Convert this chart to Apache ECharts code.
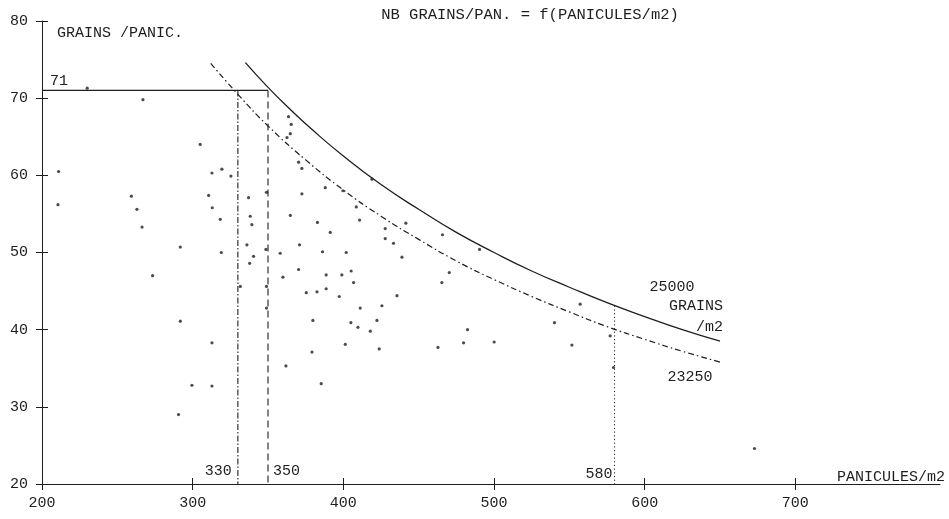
<!DOCTYPE html>
<html>
<head>
<meta charset="utf-8">
<script src="https://cdn.jsdelivr.net/npm/echarts@6/dist/echarts.min.js"></script>
<style>
html,body{margin:0;padding:0;background:#fff;}
#chart{width:949px;height:519px;}
</style>
</head>
<body>
<div id="chart"></div>
<script>
// ---- data ----
const xTicks = [200, 300, 400, 500, 600, 700];
const yTicks = [20, 30, 40, 50, 60, 70, 80];

// scatter: panicules/m2 and grains/panicle
const panicules = [230, 267, 211, 210.6, 305, 259.3, 263, 266.4, 312.8, 319.4, 325.4, 310.6, 313, 318.3, 291.8, 319, 273.4,
  291.8, 312.8, 299.5, 312.8, 290.6, 337.1, 338.2, 339.3, 336, 340.4, 337.8, 348.6, 358.1, 349, 363.6, 365.4, 364.8, 362.6,
  370.3, 372.5, 388, 372.5, 399.7, 419, 408.6, 364.8, 382.8, 410.8, 391.3, 427.8, 441.5, 427.8, 433.3, 370.9, 386.2, 401.9,
  438.9, 370.3, 359.9, 388.6, 399, 405.2, 406.8, 388.6, 382.5, 375.4, 397.3, 435.6, 425.6, 411.2, 379.8, 405, 409.7, 422.3,
  417.9, 401.3, 423.8, 462.8, 379.2, 361.9, 385.3, 331.6, 349, 465.8, 490.4, 470.3, 465.4, 557.2, 540.1, 482.4, 479.8, 500.1,
  551.7, 577.1, 579.3, 672.9, 349];
const grainsPerPan = [71.3, 69.8, 60.5, 56.2, 64.0, 57.3, 55.6, 53.3, 60.3, 60.8, 59.9, 57.4, 55.8, 54.3, 50.7, 50.0, 47.0,
  41.1, 38.3, 32.8, 32.7, 29.0, 57.1, 54.7, 53.6, 51.0, 49.5, 48.6, 50.4, 49.9, 57.8, 67.6, 66.6, 65.4, 64.9,
  61.7, 60.9, 58.4, 57.6, 58.0, 59.5, 55.9, 54.8, 53.9, 54.2, 52.6, 53.1, 53.8, 51.8, 51.2, 51.0, 50.1, 50.0,
  49.4, 47.8, 46.8, 47.1, 47.1, 47.6, 46.1, 45.3, 44.9, 44.8, 44.3, 44.4, 43.1, 42.8, 41.2, 40.9, 40.3, 41.2,
  39.8, 38.1, 37.5, 37.7, 37.1, 35.3, 33.0, 45.6, 45.6, 52.3, 50.4, 47.4, 46.1, 43.3, 40.9, 40.0, 38.3, 38.4,
  38.0, 39.2, 35.1, 24.6, 42.8];

// iso-yield curves
const curveHighX = [335, 350, 365, 380, 400, 425, 450, 475, 500, 525, 550, 575, 600, 625, 650];
const curveHighY = [74.6, 71.4, 68.5, 65.8, 62.5, 58.8, 55.6, 52.6, 50.0, 47.6, 45.5, 43.5, 41.7, 40.0, 38.5];
const curveLowX = [312, 330, 350, 375, 400, 425, 450, 475, 500, 525, 550, 575, 600, 625, 650];
const curveLowY = [74.5, 70.5, 66.4, 62.0, 58.1, 54.7, 51.7, 48.9, 46.5, 44.3, 42.3, 40.4, 38.75, 37.2, 35.8];

// reference lines
const refGrains = 71;
const refPanA = 330, refPanB = 350, refPanC = 580;
const refPanCTop = 43.1;
const xMin = 200, xMax = 796, yMin = 20, yMax = 80;

const FONT = '"Liberation Mono", "DejaVu Sans Mono", monospace';
const INK = '#1e1e1e';

const chart = echarts.init(document.getElementById('chart'), null, {renderer: 'canvas'});

const lineBase = {type: 'line', symbol: 'none', silent: true, animation: false, z: 3};

const xBase = {type: 'value', min: xMin, max: xMax, interval: 100, position: 'bottom', splitLine: {show: false}};
const yBase = {type: 'value', min: yMin, max: yMax, interval: 10, position: 'left', splitLine: {show: false}};
const clearLine = {show: true, lineStyle: {color: 'rgba(0,0,0,0)'}};

chart.setOption({
  animation: false,
  backgroundColor: '#fff',
  grid: {left: 42, right: 9, top: 21, bottom: 35},
  xAxis: [
    Object.assign({}, xBase, {
      axisLine: {lineStyle: {color: INK, width: 1}},
      axisTick: {show: true, length: 6, lineStyle: {color: INK}, customValues: xTicks},
      axisLabel: {color: INK, fontFamily: FONT, fontSize: 15, margin: 12, customValues: xTicks}
    }),
    Object.assign({}, xBase, {
      axisLine: clearLine,
      axisTick: {show: true, inside: true, length: 6, lineStyle: {color: INK, width: 1}, customValues: xTicks},
      axisLabel: {show: false}
    })
  ],
  yAxis: [
    Object.assign({}, yBase, {
      axisLine: {show: true, lineStyle: {color: INK, width: 1}},
      axisTick: {show: true, length: 6, lineStyle: {color: INK}, customValues: yTicks},
      axisLabel: {color: INK, fontFamily: FONT, fontSize: 15, margin: 14, customValues: yTicks}
    }),
    Object.assign({}, yBase, {
      axisLine: clearLine,
      axisTick: {show: true, inside: true, length: 6, lineStyle: {color: INK, width: 1}, customValues: yTicks},
      axisLabel: {show: false}
    })
  ],
  series: [
    {
      type: 'scatter', silent: true, animation: false, symbol: 'circle', symbolSize: 3.2,
      itemStyle: {color: INK}, z: 4,
      data: panicules.map((p, i) => [p, grainsPerPan[i]])
    },
    Object.assign({}, lineBase, {
      smooth: true, lineStyle: {color: INK, width: 1.3, type: 'solid'},
      data: curveHighX.map((x, i) => [x, curveHighY[i]])
    }),
    Object.assign({}, lineBase, {
      smooth: true, lineStyle: {color: INK, width: 1.2, type: [6, 3, 1.5, 3]},
      data: curveLowX.map((x, i) => [x, curveLowY[i]])
    }),
    Object.assign({}, lineBase, {
      lineStyle: {color: INK, width: 1.2, type: 'solid'},
      data: [[xMin, refGrains], [refPanB, refGrains]]
    }),
    Object.assign({}, lineBase, {
      lineStyle: {color: INK, width: 1.1, type: [6, 2, 1.5, 2]},
      data: [[refPanA, refGrains], [refPanA, yMin]]
    }),
    Object.assign({}, lineBase, {
      lineStyle: {color: INK, width: 1.1, type: [7, 4]},
      data: [[refPanB, refGrains], [refPanB, yMin]]
    }),
    Object.assign({}, lineBase, {
      lineStyle: {color: INK, width: 1, type: [1.2, 2.5]},
      data: [[refPanC, refPanCTop], [refPanC, yMin]]
    })
  ]
});

function px(x, y) { return chart.convertToPixel({xAxisIndex: 0, yAxisIndex: 0}, [x, y]); }
function txt(text, x, y, align, vAlign, size) {
  return {
    type: 'text', silent: true, z: 10,
    style: {text: text, x: x, y: y, align: align, verticalAlign: vAlign,
            font: (size || 15) + 'px ' + FONT, fill: INK}
  };
}

const p71 = px(xMin, refGrains);
const pA = px(refPanA, yMin);
const pB = px(refPanB, yMin);
const pC = px(refPanC, yMin);
const pHiEnd = px(curveHighX[curveHighX.length - 1], curveHighY[curveHighY.length - 1]);
const pLoEnd = px(curveLowX[curveLowX.length - 1], curveLowY[curveLowY.length - 1]);
const pTopLeft = px(xMin, yMax);
const pBottomRight = px(xMax, yMin);

chart.setOption({
  graphic: [
    txt('NB GRAINS/PAN. = f(PANICULES/m2)', 530, 15, 'center', 'middle', 15.5),
    txt('GRAINS /PANIC.', pTopLeft[0] + 15, pTopLeft[1] + 12, 'left', 'middle'),
    txt('PANICULES/m2', pBottomRight[0] + 5, pBottomRight[1] - 7, 'right', 'middle'),
    txt(String(refGrains), p71[0] + 8, p71[1] - 9, 'left', 'middle'),
    txt(String(refPanA), pA[0] - 6, pA[1] - 13, 'right', 'middle'),
    txt(String(refPanB), pB[0] + 5, pB[1] - 13, 'left', 'middle'),
    txt(String(refPanC), pC[0] - 2, pC[1] - 10, 'right', 'middle'),
    txt('25000', pHiEnd[0] - 48, pHiEnd[1] - 54, 'center', 'middle'),
    txt('GRAINS', pHiEnd[0] - 24, pHiEnd[1] - 35, 'center', 'middle'),
    txt('/m2', pHiEnd[0] + 3, pHiEnd[1] - 14, 'right', 'middle'),
    txt('23250', pLoEnd[0] - 30, pLoEnd[1] + 15, 'center', 'middle')
  ]
});
</script>
</body>
</html>
